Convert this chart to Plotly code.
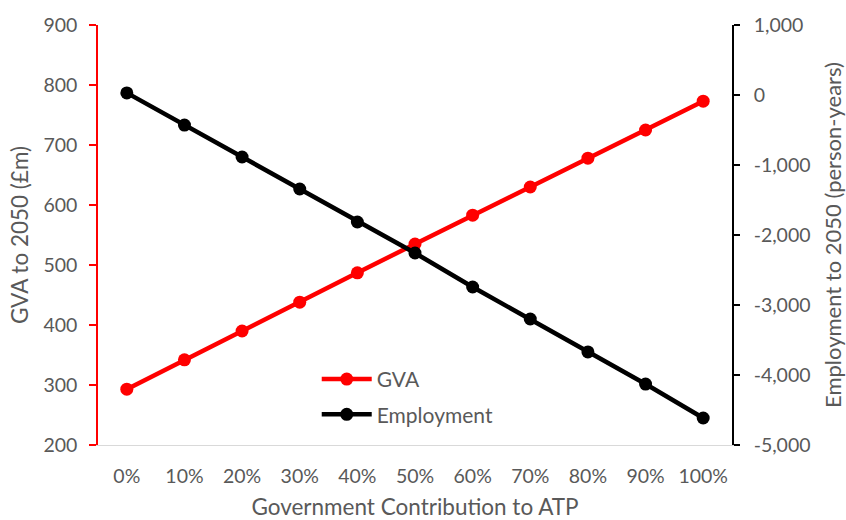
import plotly.graph_objects as go

# Government contribution scenarios
contribution = ["0%", "10%", "20%", "30%", "40%", "50%", "60%", "70%", "80%", "90%", "100%"]

# Gross value added to 2050 (£m)
gva = [293, 342, 390, 438, 487, 535, 583, 630, 678, 725, 773]

# Employment to 2050 (person-years)
employment = [30, -430, -886, -1343, -1814, -2257, -2743, -3200, -3671, -4129, -4614]

# Right-axis ticks, labelled with a plain hyphen for negatives
employment_ticks = [1000, 0, -1000, -2000, -3000, -4000, -5000]
employment_tick_text = [f"{v:,}" for v in employment_ticks]

TEXT = "#595959"
FONT = "Lato, 'Open Sans', sans-serif"

fig = go.Figure()
fig.add_trace(go.Scatter(
    x=contribution, y=gva, name="GVA", mode="lines+markers",
    line=dict(color="#ff0000", width=4.5),
    marker=dict(color="#ff0000", size=13),
    yaxis="y", legendgroup="gva",
))
fig.add_trace(go.Scatter(
    x=contribution, y=employment, name="Employment", mode="lines+markers",
    line=dict(color="#000000", width=4.5),
    marker=dict(color="#000000", size=13),
    yaxis="y2", legendgroup="emp",
))

fig.update_layout(
    width=846, height=520,
    margin=dict(l=98, r=114, t=25, b=75),
    paper_bgcolor="white", plot_bgcolor="white",
    font=dict(family=FONT, size=19, color=TEXT),
    xaxis=dict(
        type="category", range=[-0.5, 10.5], automargin=False,
        showgrid=False, zeroline=False,
        showline=True, linecolor="#d9d9d9", linewidth=1,
        ticks="", ticklabelstandoff=14,
        tickfont=dict(size=19.5, color=TEXT),
        title=dict(text="Government Contribution to ATP", font=dict(size=22.5, color=TEXT), standoff=32),
    ),
    yaxis=dict(
        range=[200, 900], dtick=100, automargin=False,
        showgrid=False, zeroline=False,
        showline=True, linecolor="#ff0000", linewidth=1.5,
        ticks="outside", ticklen=7, tickcolor="#ff0000", tickwidth=1.5,
        ticklabelstandoff=8,
        tickfont=dict(size=19.5, color=TEXT),
        title=dict(text="GVA to 2050 (£m)", font=dict(size=22.5, color=TEXT), standoff=9),
    ),
    yaxis2=dict(
        range=[-5000, 1000], automargin=False,
        tickmode="array", tickvals=employment_ticks, ticktext=employment_tick_text,
        overlaying="y", side="right",
        showgrid=False, zeroline=False,
        showline=True, linecolor="#000000", linewidth=1.5,
        ticks="outside", ticklen=6, tickcolor="#000000", tickwidth=1.5,
        ticklabelstandoff=10,
        tickfont=dict(size=19.5, color=TEXT),
        title=dict(text="Employment to 2050 (person-years)", font=dict(size=22, color=TEXT), standoff=18),
    ),
    legend=dict(
        x=0.345, y=0.205, xanchor="left", yanchor="top",
        bgcolor="rgba(0,0,0,0)", font=dict(size=21, color=TEXT),
        itemwidth=50, tracegroupgap=5,
    ),
    showlegend=True,
)

fig.write_html("out.html")
